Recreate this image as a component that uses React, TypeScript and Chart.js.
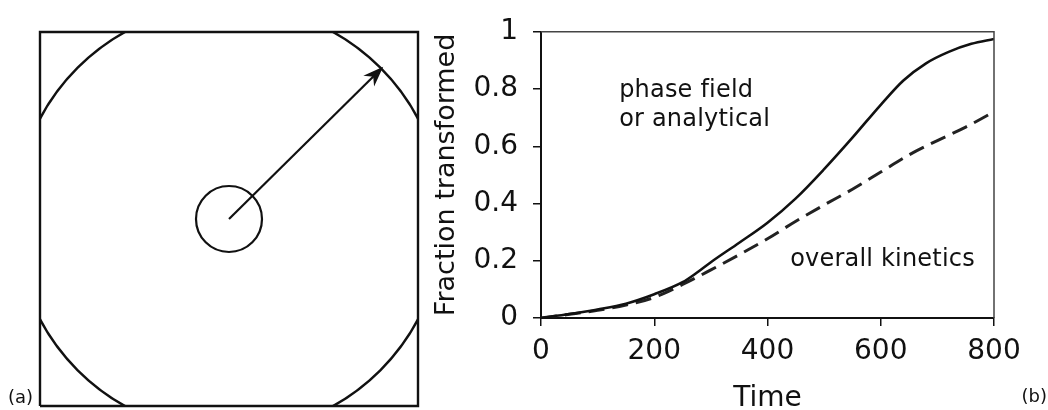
import React, { useEffect, useRef } from 'react';
import { Chart, registerables } from 'chart.js';

Chart.register(...registerables);

const FONT = '"DejaVu Sans", Verdana, sans-serif';
const INK = '#111111';

// ---------- Panel (b): kinetics curves ----------
const timePhaseField = [0, 50, 100, 150, 200, 250, 275, 300, 350, 400, 450, 500, 550, 600, 640, 680, 720, 760, 800];
const fracPhaseField = [0, 0.014, 0.03, 0.05, 0.083, 0.125, 0.158, 0.195, 0.263, 0.333, 0.418, 0.52, 0.63, 0.745, 0.83, 0.89, 0.93, 0.958, 0.975];

const timeOverall = [0, 50, 100, 150, 200, 250, 300, 350, 400, 450, 500, 550, 600, 650, 700, 750, 795];
const fracOverall = [0, 0.013, 0.027, 0.045, 0.072, 0.117, 0.168, 0.221, 0.277, 0.338, 0.395, 0.45, 0.51, 0.57, 0.62, 0.667, 0.715];

const xTickValues = [0, 200, 400, 600, 800];
const yTickValues = [0, 0.2, 0.4, 0.6, 0.8, 1];

const xTitle = 'Time';
const yTitle = 'Fraction transformed';

const annotationTexts = ['phase field', 'or analytical', 'overall kinetics'];
const annotationTimes = [138, 138, 440];
const annotationFracs = [0.795, 0.694, 0.205];

const panelLabelA = '(a)';
const panelLabelB = '(b)';

// ---------- Panel (a): schematic ----------
const squareX = [0, 1, 1, 0, 0];
const squareY = [0, 0, 1, 1, 0];
const centreX = [0.5];
const centreY = [0.5];
const arrowX = [0.5, 0.904];
const arrowY = [0.5, 0.903];

const BIG_RADIUS = 214;
const SMALL_RADIUS = 33;

function zip(xs: number[], ys: number[]) {
  return xs.map((x, i) => ({ x, y: ys[i] }));
}

export default function App() {
  const leftRef = useRef<HTMLCanvasElement | null>(null);
  const rightRef = useRef<HTMLCanvasElement | null>(null);

  useEffect(() => {
    document.body.style.margin = '0';

    // ---------- left chart ----------
    const leftPlugin = {
      id: 'leftDecor',
      afterDatasetsDraw(chart: any) {
        const ctx = chart.ctx;
        const meta = chart.getDatasetMeta(3);
        const p0 = meta.data[0];
        const p1 = meta.data[1];
        if (p0 && p1) {
          const ang = Math.atan2(p1.y - p0.y, p1.x - p0.x);
          const len = 17;
          const spread = 0.36;
          const inner = 11;
          ctx.save();
          ctx.fillStyle = INK;
          ctx.strokeStyle = INK;
          ctx.lineWidth = 1.5;
          ctx.lineJoin = 'miter';
          ctx.beginPath();
          ctx.moveTo(p1.x, p1.y);
          ctx.lineTo(p1.x - len * Math.cos(ang - spread), p1.y - len * Math.sin(ang - spread));
          ctx.lineTo(p1.x - inner * Math.cos(ang), p1.y - inner * Math.sin(ang));
          ctx.lineTo(p1.x - len * Math.cos(ang + spread), p1.y - len * Math.sin(ang + spread));
          ctx.closePath();
          ctx.fill();
          ctx.stroke();
          ctx.restore();
        }
        ctx.save();
        ctx.fillStyle = INK;
        ctx.font = `18px ${FONT}`;
        ctx.textAlign = 'left';
        ctx.textBaseline = 'middle';
        ctx.fillText(panelLabelA, 8, 398);
        ctx.restore();
      },
    };

    const left = new Chart(leftRef.current as HTMLCanvasElement, {
      type: 'scatter',
      data: {
        datasets: [
          {
            data: zip(squareX, squareY),
            showLine: true,
            borderColor: INK,
            borderWidth: 2.4,
            pointRadius: 0,
            clip: false as any,
          },
          {
            data: zip(centreX, centreY),
            showLine: false,
            pointRadius: BIG_RADIUS,
            pointBorderWidth: 2.4,
            pointBorderColor: INK,
            pointBackgroundColor: 'rgba(0,0,0,0)',
            clip: 0 as any,
          },
          {
            data: zip(centreX, centreY),
            showLine: false,
            pointRadius: SMALL_RADIUS,
            pointBorderWidth: 2.2,
            pointBorderColor: INK,
            pointBackgroundColor: 'rgba(0,0,0,0)',
            clip: false as any,
          },
          {
            data: zip(arrowX, arrowY),
            showLine: true,
            borderColor: INK,
            borderWidth: 2.2,
            pointRadius: 0,
            clip: false as any,
          },
        ],
      } as any,
      options: {
        responsive: false,
        animation: false,
        events: [],
        layout: { autoPadding: false, padding: { left: 40, top: 32, right: 12, bottom: 4 } },
        plugins: { legend: { display: false }, tooltip: { enabled: false } },
        scales: {
          x: { type: 'linear', min: 0, max: 1, display: false },
          y: { type: 'linear', min: 0, max: 1, display: false },
        },
      } as any,
      plugins: [leftPlugin],
    });

    // ---------- right chart ----------
    const rightPlugin = {
      id: 'rightDecor',
      afterDatasetsDraw(chart: any) {
        const ctx = chart.ctx;
        const { chartArea } = chart;
        const xs = chart.scales.x;
        const ys = chart.scales.y;
        ctx.save();
        ctx.strokeStyle = '#444';
        ctx.lineWidth = 1.5;
        ctx.beginPath();
        ctx.moveTo(chartArea.left, chartArea.top);
        ctx.lineTo(chartArea.right, chartArea.top);
        ctx.lineTo(chartArea.right, chartArea.bottom);
        ctx.stroke();

        ctx.fillStyle = INK;
        ctx.font = `24px ${FONT}`;
        try {
          (ctx as any).letterSpacing = '0.2px';
        } catch (e) {}
        ctx.textAlign = 'left';
        ctx.textBaseline = 'middle';
        annotationTexts.forEach((t, i) => {
          ctx.fillText(t, xs.getPixelForValue(annotationTimes[i]), ys.getPixelForValue(annotationFracs[i]));
        });
        try {
          (ctx as any).letterSpacing = '0px';
        } catch (e) {}

        ctx.font = `18px ${FONT}`;
        ctx.textAlign = 'right';
        ctx.fillText(panelLabelB, chart.width - 1, 397);
        ctx.restore();
      },
    };

    const right = new Chart(rightRef.current as HTMLCanvasElement, {
      type: 'line',
      data: {
        datasets: [
          {
            label: 'phase field or analytical',
            data: zip(timePhaseField, fracPhaseField),
            borderColor: INK,
            borderWidth: 2.6,
            pointRadius: 0,
            cubicInterpolationMode: 'monotone',
            fill: false,
          },
          {
            label: 'overall kinetics',
            data: zip(timeOverall, fracOverall),
            borderColor: '#222',
            borderWidth: 3,
            borderDash: [16, 8],
            pointRadius: 0,
            cubicInterpolationMode: 'monotone',
            fill: false,
          },
        ],
      } as any,
      options: {
        responsive: false,
        animation: false,
        events: [],
        layout: { padding: { left: 0, top: 21, right: 54, bottom: 0 } },
        plugins: { legend: { display: false }, tooltip: { enabled: false } },
        scales: {
          x: {
            type: 'linear',
            min: 0,
            max: 800,
            afterBuildTicks(scale: any) {
              scale.ticks = xTickValues.map((v) => ({ value: v }));
            },
            afterFit(scale: any) {
              scale.height = 92;
            },
            ticks: {
              color: INK,
              font: { family: FONT, size: 28 },
              padding: 9,
              maxRotation: 0,
              autoSkip: false,
              callback: (v: any) => String(v),
            },
            grid: { display: true, drawOnChartArea: false, tickLength: 8, color: INK, lineWidth: 1.5 },
            border: { display: true, color: INK, width: 2 },
            title: {
              display: true,
              text: xTitle,
              color: INK,
              font: { family: FONT, size: 28, lineHeight: 1 },
              padding: { top: 0, bottom: -3 },
            },
          },
          y: {
            type: 'linear',
            min: 0,
            max: 1,
            afterBuildTicks(scale: any) {
              scale.ticks = yTickValues.map((v) => ({ value: v }));
            },
            afterFit(scale: any) {
              scale.width = 111;
            },
            ticks: {
              color: INK,
              font: { family: FONT, size: 28 },
              padding: 15,
              autoSkip: false,
              callback: (v: any) => String(Math.round(v * 10) / 10),
            },
            grid: { display: true, drawOnChartArea: false, tickLength: 8, color: INK, lineWidth: 1.5 },
            border: { display: true, color: INK, width: 2 },
            title: {
              display: true,
              text: yTitle,
              color: INK,
              font: { family: FONT, size: 27, lineHeight: 1 },
              padding: { top: 3, bottom: 0 },
            },
          },
        },
      } as any,
      plugins: [rightPlugin],
    });

    return () => {
      left.destroy();
      right.destroy();
    };
  }, []);

  return (
    <div style={{ position: 'fixed', left: 0, top: 0, width: 1048, height: 410, background: '#fff', overflow: 'hidden' }}>
      <canvas ref={leftRef} width={430} height={410} style={{ position: 'absolute', left: 0, top: 0, display: 'block' }} />
      <canvas ref={rightRef} width={618} height={410} style={{ position: 'absolute', left: 430, top: 0, display: 'block' }} />
    </div>
  );
}
